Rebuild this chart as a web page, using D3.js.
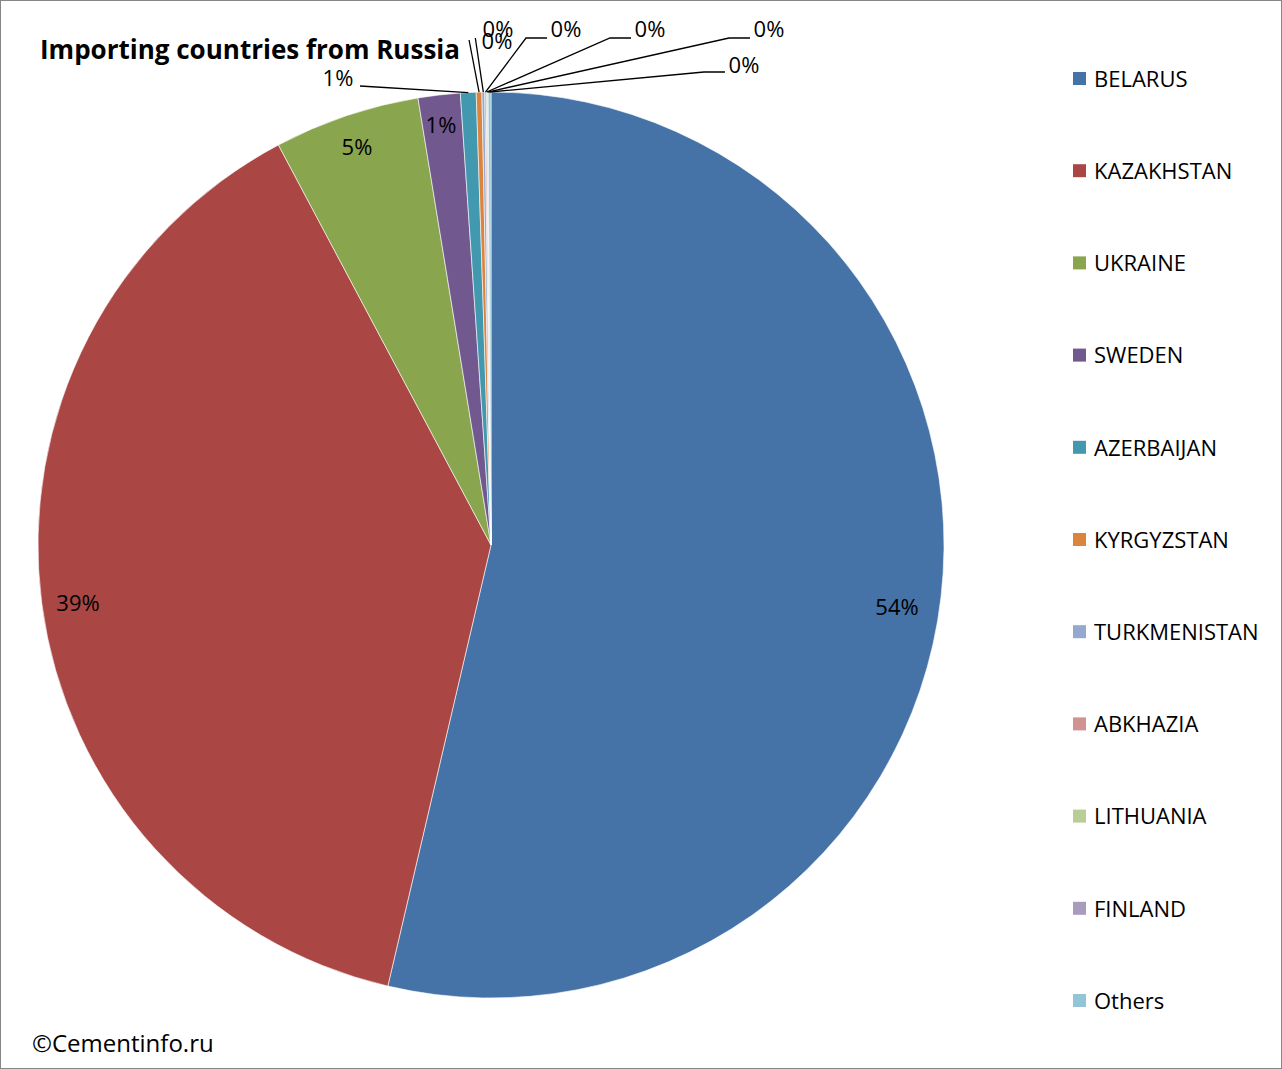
<!DOCTYPE html>
<html><head><meta charset="utf-8">
<script src="https://cdn.jsdelivr.net/npm/d3@7"></script>
<style>
body{margin:0;background:#fff;}
text{font-family:"Open Sans","Noto Sans",sans-serif;}
</style></head>
<body><svg id="chart" width="1282" height="1069"></svg>
<script>
const countries = ["BELARUS","KAZAKHSTAN","UKRAINE","SWEDEN","AZERBAIJAN","KYRGYZSTAN","TURKMENISTAN","ABKHAZIA","LITHUANIA","FINLAND","Others"];
const shares = [53.7, 38.6, 5.2, 1.5, 0.56, 0.2, 0.1, 0.05, 0.04, 0.03, 0.1];
const labels = ["54%","39%","5%","1%","1%","0%","0%","0%","0%","0%","0%"];
const colors = ["#4572a7","#aa4643","#89a54e","#71588f","#4198af","#db843d","#93a9cf","#d19392","#b9cd96","#a99bbd","#92c5d6"];

// label placement: [x, y, anchor, outside]
const labelPos = [
  [897,606,"middle",false],[78,602,"middle",false],[357,146,"middle",false],[441,124,"middle",false],
  [338,77,"middle",true],[497,40,"middle",true],[498,28,"middle",true],[566,28,"middle",true],
  [650,28,"middle",true],[769,28,"middle",true],[744,64,"middle",true]
];

const svg = d3.select("#chart");
svg.append("rect").attr("x",0.5).attr("y",0.5).attr("width",1281).attr("height",1068)
  .attr("fill","#fff").attr("stroke","#868686");

const cx = 491, cy = 545, r = 453;
const pie = d3.pie().sort(null).value(d => d)(shares);
const arc = d3.arc().innerRadius(0).outerRadius(r);
const g = svg.append("g").attr("transform",`translate(${cx},${cy})`);
g.selectAll("path").data(pie).enter().append("path")
  .attr("d", arc).attr("fill",(d,i)=>colors[i]).attr("stroke","#fff").attr("stroke-width",0.6);

// leader lines for small slices
pie.forEach((d,i) => {
  const p = labelPos[i];
  if (!p[3]) return;
  const a = (d.startAngle + d.endAngle)/2;
  const ex = cx + r*Math.sin(a), ey = cy - r*Math.cos(a);
  let pts;
  if (i === 4) pts = [[ex,ey],[p[0]+22,p[1]+9]];
  else if (i === 5 || i === 6) pts = [[ex,ey],[ex-(i===5?10:8),p[1]+(i===5?0:10)]];
  else pts = [[ex,ey],[p[0]-40,p[1]+(i===10?8:10)],[p[0]-19,p[1]+(i===10?8:10)]];
  svg.append("path").attr("d", d3.line()(pts)).attr("fill","none").attr("stroke","#000").attr("stroke-width",1.3);
});

svg.selectAll("text.lbl").data(labels).enter().append("text").attr("class","lbl")
  .attr("x",(d,i)=>labelPos[i][0]).attr("y",(d,i)=>labelPos[i][1]+1)
  .attr("text-anchor","middle").attr("dy","0.35em").attr("font-size",22).text(d=>d);

svg.append("text").attr("x",40).attr("y",59).attr("font-size",26).attr("font-weight","bold")
  .text("Importing countries from Russia");
svg.append("text").attr("x",32).attr("y",1052).attr("font-size",24).text("©Cementinfo.ru");

const ly = d3.scalePoint().domain(countries).range([78,1000]);
const leg = svg.append("g");
countries.forEach((c,i) => {
  leg.append("rect").attr("x",1073).attr("y",ly(c)-6).attr("width",13).attr("height",13).attr("fill",colors[i]);
  leg.append("text").attr("x",1094).attr("y",ly(c)+1).attr("dy","0.35em").attr("font-size",22).text(c);
});
</script></body></html>
